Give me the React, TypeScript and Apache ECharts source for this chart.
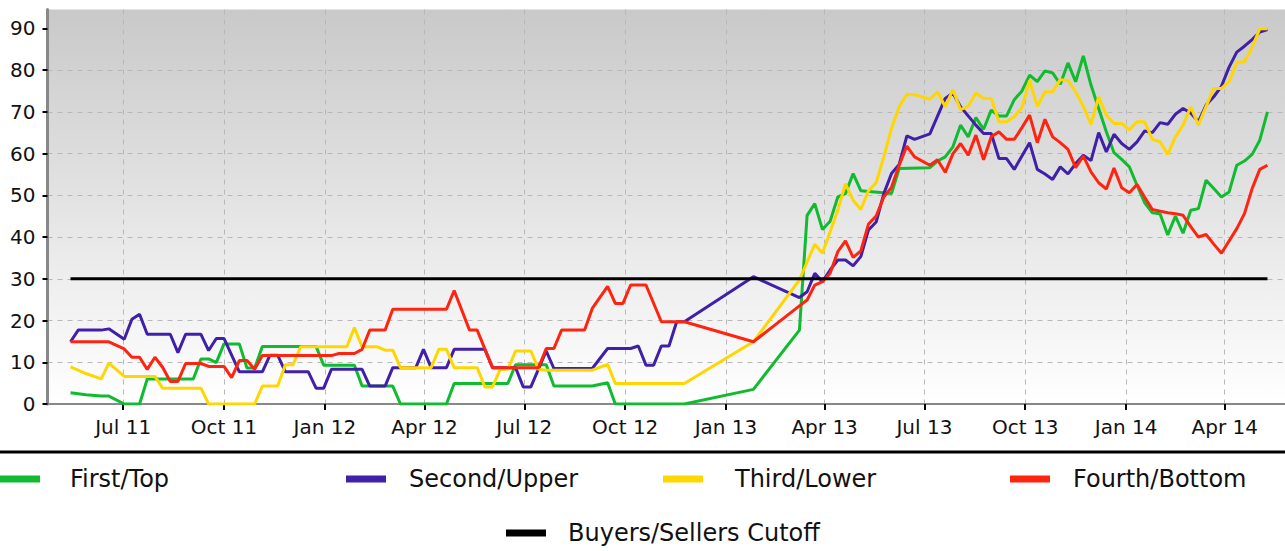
import React, { useEffect, useRef } from "react";
import * as echarts from "echarts";

// Weekly observations; week 0 = 14 May 2011. Each entry: [week index, value]
const startDate = "2011-05-14";

const firstTop: [number, number][] = [
  [0, 2.7], [2, 2.2], [4, 1.9], [5, 1.9], [7, 0], [9, 0], [10, 6.0], [16, 6.0], [17, 10.8], [18, 10.8],
  [19, 9.9], [20, 14.4], [22, 14.4], [23, 8.6], [24, 8.6], [25, 13.8], [32, 13.8], [33, 9.3], [37, 9.3],
  [38, 4.3], [42, 4.3], [43, 0], [49, 0], [50, 4.9], [57, 4.9], [58, 9.4], [62, 9.4], [63, 4.3], [68, 4.3],
  [70, 5.1], [71, 0], [80, 0], [89, 3.5], [95, 17.7], [96, 45.2], [97, 48.0], [98, 41.8], [99, 43.8],
  [100, 49.6], [101, 50.4], [102, 55.2], [103, 51.1], [107, 50.4], [108, 56.4], [112, 56.6], [113, 58.2],
  [114, 59.2], [115, 61.6], [116, 66.8], [117, 64.0], [118, 68.6], [119, 65.8], [120, 70.4], [121, 69.0],
  [122, 69.0], [123, 72.9], [124, 75.0], [125, 78.8], [126, 77.2], [127, 79.8], [128, 79.3], [129, 76.6],
  [130, 81.7], [131, 77.2], [132, 83.4], [133, 76.4], [134, 70.8], [135, 65.2], [136, 60.2], [137, 58.6],
  [138, 56.8], [139, 52.4], [140, 48.2], [141, 45.8], [142, 45.6], [143, 40.5], [144, 45.0], [145, 40.9],
  [146, 46.4], [147, 46.8], [148, 53.6], [149, 51.6], [150, 49.6], [151, 50.8], [152, 57.2], [153, 58.2],
  [154, 59.8], [155, 63.2], [156, 70.0],
];

const secondUpper: [number, number][] = [
  [0, 14.9], [1, 17.7], [4, 17.7], [5, 18.0], [7, 15.5], [8, 20.3], [9, 21.5], [10, 16.7], [13, 16.7],
  [14, 12.3], [15, 16.7], [17, 16.7], [18, 12.8], [19, 15.7], [20, 15.7], [22, 7.7], [25, 7.7], [26, 11.7],
  [27, 11.7], [28, 7.7], [31, 7.7], [32, 3.8], [33, 3.8], [34, 8.3], [38, 8.3], [39, 4.3], [41, 4.3],
  [42, 8.7], [45, 8.7], [46, 13.1], [47, 8.7], [49, 8.7], [50, 13.1], [54, 13.1], [55, 8.7], [58, 8.7],
  [59, 4.1], [60, 4.1], [62, 12.7], [63, 8.5], [68, 8.5], [70, 13.3], [73, 13.3], [74, 13.9], [75, 9.3],
  [76, 9.3], [77, 13.9], [78, 13.9], [79, 19.7], [80, 19.7], [89, 30.5], [95, 25.5], [96, 26.9], [97, 31.3],
  [98, 29.3], [99, 32.1], [100, 34.5], [101, 34.5], [102, 33.1], [103, 35.3], [104, 41.7], [105, 43.6],
  [106, 50.4], [107, 55.2], [108, 57.4], [109, 64.2], [110, 63.4], [112, 64.7], [114, 73.2], [115, 74.5],
  [116, 71.2], [118, 66.8], [119, 64.8], [120, 64.8], [121, 58.8], [122, 58.8], [123, 56.2], [124, 59.4],
  [125, 62.6], [126, 56.2], [127, 55.1], [128, 53.8], [129, 56.8], [130, 55.1], [131, 57.6], [132, 59.6],
  [133, 58.3], [134, 65.0], [135, 60.4], [136, 64.6], [137, 62.4], [138, 61.0], [139, 62.8], [140, 65.4],
  [141, 65.0], [142, 67.4], [143, 67.0], [144, 69.4], [145, 70.8], [146, 69.7], [147, 67.6], [148, 71.6],
  [149, 73.6], [150, 76.1], [151, 80.7], [152, 84.3], [153, 85.7], [154, 87.3], [155, 89.1], [156, 89.7],
];

const thirdLower: [number, number][] = [
  [0, 8.9], [2, 7.3], [4, 6.0], [5, 9.8], [7, 6.6], [11, 6.6], [12, 3.8], [17, 3.8], [18, 0], [24, 0],
  [25, 4.3], [27, 4.3], [28, 9.4], [29, 9.4], [30, 13.7], [36, 13.7], [37, 18.3], [38, 13.7], [40, 13.7],
  [41, 12.9], [42, 12.9], [43, 8.7], [47, 8.7], [48, 13.1], [49, 13.1], [50, 8.7], [53, 8.7], [54, 4.1],
  [55, 4.1], [56, 8.3], [57, 8.3], [58, 12.7], [60, 12.7], [61, 8.3], [62, 8.1], [68, 8.1], [70, 9.5],
  [71, 4.9], [80, 4.9], [89, 14.9], [95, 29.7], [97, 38.3], [98, 36.1], [100, 46.4], [101, 52.8],
  [102, 48.8], [103, 46.6], [104, 51.1], [105, 53.0], [106, 59.2], [107, 66.0], [108, 71.2], [109, 74.2],
  [110, 74.1], [112, 73.0], [113, 74.8], [114, 71.2], [115, 75.3], [116, 70.5], [117, 71.3], [118, 74.5],
  [119, 73.2], [120, 73.2], [121, 67.6], [122, 67.6], [123, 68.8], [124, 71.0], [125, 77.5], [126, 71.3],
  [127, 74.8], [128, 74.8], [129, 77.7], [130, 77.5], [131, 74.8], [132, 71.3], [133, 67.0], [134, 73.6],
  [135, 69.2], [136, 67.2], [137, 67.2], [138, 65.7], [139, 67.6], [140, 67.6], [141, 63.4], [142, 62.8],
  [143, 59.8], [144, 64.0], [145, 66.8], [146, 71.2], [147, 66.8], [148, 71.3], [149, 75.6], [150, 75.6],
  [151, 77.2], [152, 81.9], [153, 81.9], [154, 85.5], [155, 89.9], [156, 89.9],
];

const fourthBottom: [number, number][] = [
  [0, 14.9], [5, 14.9], [7, 13.2], [8, 11.2], [9, 11.2], [10, 8.3], [11, 11.2], [12, 8.8], [13, 5.4],
  [14, 5.4], [15, 9.7], [17, 9.7], [18, 9.0], [20, 9.0], [21, 6.3], [22, 10.4], [23, 10.4], [24, 8.3],
  [25, 11.6], [34, 11.6], [35, 12.1], [37, 12.1], [38, 13.1], [39, 17.7], [41, 17.7], [42, 22.7],
  [49, 22.7], [50, 27.2], [52, 17.7], [53, 17.7], [55, 8.7], [61, 8.7], [62, 13.3], [63, 13.3], [64, 17.7],
  [67, 17.7], [68, 22.9], [70, 28.2], [71, 24.1], [72, 24.1], [73, 28.5], [75, 28.5], [77, 19.7],
  [80, 19.7], [89, 14.9], [95, 23.5], [96, 24.9], [97, 28.5], [98, 29.3], [99, 31.3], [100, 36.5],
  [101, 39.1], [102, 35.1], [103, 36.7], [104, 43.1], [105, 45.0], [106, 49.6], [107, 51.9], [108, 57.2],
  [109, 61.8], [110, 59.2], [112, 57.2], [113, 58.5], [114, 55.5], [115, 59.9], [116, 62.4], [117, 59.6],
  [118, 64.4], [119, 58.5], [120, 64.0], [121, 65.2], [122, 63.4], [123, 63.4], [124, 66.2], [125, 69.2],
  [126, 62.6], [127, 68.2], [128, 64.0], [129, 62.6], [130, 61.0], [131, 56.6], [132, 59.4], [133, 55.6],
  [134, 53.0], [135, 51.5], [136, 56.5], [137, 51.8], [138, 50.6], [139, 52.6], [140, 49.5], [141, 46.6],
  [142, 46.2], [143, 45.8], [144, 45.6], [145, 45.2], [146, 42.5], [147, 40.0], [148, 40.6], [149, 38.3],
  [150, 36.1], [152, 42.0], [153, 45.6], [154, 51.6], [155, 56.2], [156, 57.2],
];

const cutoffValue = 30;
const cutoffWeeks = [0, 156];

const tickDates = [
  "2011-07-01", "2011-10-01", "2012-01-01", "2012-04-01", "2012-07-01", "2012-10-01",
  "2013-01-01", "2013-04-01", "2013-07-01", "2013-10-01", "2014-01-01", "2014-04-01",
];
const tickLabels = [
  "Jul 11", "Oct 11", "Jan 12", "Apr 12", "Jul 12", "Oct 12",
  "Jan 13", "Apr 13", "Jul 13", "Oct 13", "Jan 14", "Apr 14",
];
const yTicks = [0, 10, 20, 30, 40, 50, 60, 70, 80, 90];

const seriesNames = ["First/Top", "Second/Upper", "Third/Lower", "Fourth/Bottom", "Buyers/Sellers Cutoff"];
const seriesColors = ["#10bb30", "#4020a8", "#ffd700", "#ff2410", "#000000"];

const DAY = 86400000;
const start = Date.parse(startDate);
const toPoints = (arr: [number, number][]) => arr.map(([w, v]) => [start + w * 7 * DAY, v]);

export default function App() {
  const ref = useRef<HTMLDivElement>(null);
  useEffect(() => {
    if (!ref.current) return;
    const chart = echarts.init(ref.current, null, { renderer: "svg" });
    const tickValues = tickDates.map((d) => Date.parse(d));
    const font = "DejaVu Sans";
    const seriesData = [
      toPoints(firstTop),
      toPoints(secondUpper),
      toPoints(thirdLower),
      toPoints(fourthBottom),
      cutoffWeeks.map((w) => [start + w * 7 * DAY, cutoffValue]),
    ];
    const legendPos = [
      { left: 0, top: 464, pad: 25 },
      { left: 346, top: 464, pad: 18 },
      { left: 663, top: 464, pad: 27 },
      { left: 1010, top: 464, pad: 18 },
      { left: 506, top: 518, pad: 17 },
    ];
    chart.setOption({
      animation: false,
      backgroundColor: "#ffffff",
      grid: {
        left: 47.5,
        right: 0,
        top: 9.5,
        bottom: 147,
        show: true,
        borderWidth: 0,
        backgroundColor: new echarts.graphic.LinearGradient(0, 0, 0, 1, [
          { offset: 0, color: "#c9c9c9" },
          { offset: 1, color: "#ffffff" },
        ]),
      },
      legend: legendPos.map((p, i) => ({
        data: [seriesNames[i]],
        left: p.left,
        top: p.top,
        padding: 0,
        icon: "rect",
        itemWidth: 40,
        itemHeight: 7,
        selectedMode: false,
        textStyle: {
          fontFamily: font,
          fontSize: 24,
          color: "#111",
          lineHeight: 30,
          padding: [0, 0, 0, p.pad],
        },
      })),
      xAxis: {
        type: "value",
        min: Date.parse("2011-04-23"),
        max: Date.parse("2014-05-26"),
        axisLine: { show: true, onZero: false, lineStyle: { color: "#888888", width: 2 } },
        axisTick: {
          show: true,
          length: 6,
          customValues: tickValues,
          lineStyle: { color: "#000", width: 2 },
        },
        axisLabel: {
          customValues: tickValues,
          formatter: (v: number) => {
            const i = tickValues.indexOf(v);
            return i >= 0 ? tickLabels[i] : "";
          },
          fontFamily: font,
          fontSize: 20,
          color: "#111",
          margin: 13,
        },
        splitLine: { show: true, lineStyle: { color: "#b8b8b8", type: [5, 5], width: 1 } },
      },
      yAxis: {
        type: "value",
        min: 0,
        max: 94.5,
        interval: 10,
        axisLine: { show: true, lineStyle: { color: "#888888", width: 3 } },
        axisTick: { show: true, length: 5, customValues: yTicks, lineStyle: { color: "#000", width: 2 } },
        axisLabel: {
          customValues: yTicks,
          fontFamily: font,
          fontSize: 20,
          color: "#111",
          margin: 12,
        },
        splitLine: { show: true, showMaxLine: false, lineStyle: { color: "#b8b8b8", type: [5, 5], width: 1 } },
      },
      graphic: [
        {
          type: "line",
          shape: { x1: 0, y1: 452, x2: 1285, y2: 452 },
          style: { stroke: "#000", lineWidth: 3 },
          silent: true,
        },
      ],
      series: seriesData.map((d, i) => ({
        name: seriesNames[i],
        type: "line",
        data: d,
        showSymbol: false,
        symbol: "none",
        color: seriesColors[i],
        lineStyle: { color: seriesColors[i], width: 3 },
        emphasis: { disabled: true },
        silent: true,
      })),
    });
    return () => chart.dispose();
  }, []);
  return (
    <div
      ref={ref}
      style={{ position: "absolute", left: 0, top: 0, width: 1285, height: 551 }}
    />
  );
}
